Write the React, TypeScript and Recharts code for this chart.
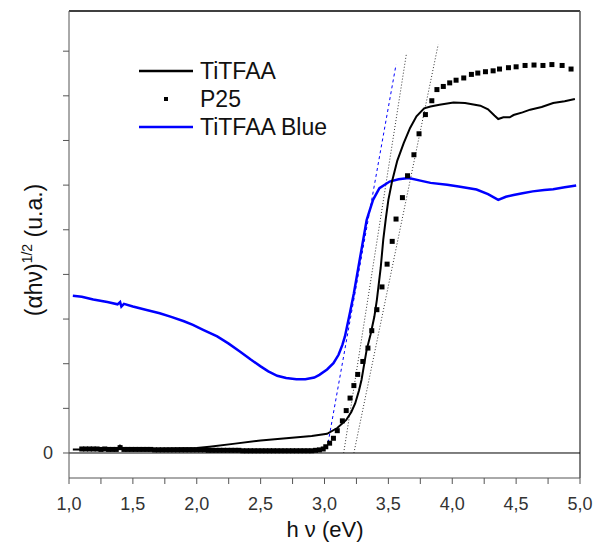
import React from 'react';
import { ComposedChart, Line, Scatter, XAxis, YAxis, ReferenceLine } from 'recharts';

// photon energy ticks (eV), labels only on the half-volt marks
const energyTicks = [1, 1.25, 1.5, 1.75, 2, 2.25, 2.5, 2.75, 3, 3.25, 3.5, 3.75, 4, 4.25, 4.5, 4.75, 5];
const intensityTicks = [0, 1, 2, 3, 4, 5, 6, 7, 8, 9];

const seriesNames = ['TiTFAA', 'P25', 'TiTFAA Blue'];

// [hv (eV), (ahv)^1/2 (u.a.)]
const tiTfaa: [number, number][] = [
  [1.03, 0.08], [1.1, 0.08], [1.3, 0.09], [1.39, 0.1], [1.4, 0.16], [1.42, 0.09], [1.6, 0.09],
  [1.8, 0.1], [2.0, 0.11], [2.1, 0.14], [2.3, 0.21], [2.5, 0.28], [2.7, 0.33], [2.9, 0.38],
  [3.02, 0.43], [3.1, 0.56], [3.17, 0.74], [3.21, 0.92], [3.24, 1.11], [3.27, 1.4], [3.29, 1.64],
  [3.31, 1.98], [3.33, 2.31], [3.36, 2.65], [3.39, 3.05], [3.41, 3.43], [3.44, 4.15], [3.46, 4.78],
  [3.48, 5.25], [3.5, 5.67], [3.53, 6.1], [3.57, 6.55], [3.62, 6.94], [3.67, 7.28], [3.72, 7.54],
  [3.78, 7.72], [3.83, 7.76], [3.9, 7.8], [4.01, 7.85], [4.1, 7.84], [4.22, 7.78], [4.28, 7.7],
  [4.33, 7.56], [4.36, 7.48], [4.4, 7.52], [4.45, 7.52], [4.48, 7.57], [4.55, 7.63], [4.61, 7.69],
  [4.7, 7.75], [4.79, 7.84], [4.88, 7.88], [4.96, 7.93],
];

const tiTfaaBlue: [number, number][] = [
  [1.03, 3.52], [1.1, 3.5], [1.19, 3.44], [1.3, 3.38], [1.38, 3.33], [1.4, 3.38], [1.41, 3.28],
  [1.43, 3.34], [1.5, 3.28], [1.6, 3.21], [1.71, 3.13], [1.8, 3.05], [1.9, 2.95], [1.97, 2.87],
  [2.05, 2.76], [2.16, 2.61], [2.25, 2.45], [2.34, 2.27], [2.42, 2.1], [2.5, 1.94], [2.56, 1.83],
  [2.63, 1.73], [2.7, 1.68], [2.78, 1.65], [2.85, 1.65], [2.92, 1.69], [2.96, 1.75], [3.02, 1.87],
  [3.07, 2.01], [3.11, 2.2], [3.14, 2.42], [3.16, 2.61], [3.2, 3.15], [3.23, 3.58], [3.28, 4.4],
  [3.33, 5.22], [3.38, 5.67], [3.43, 5.93], [3.51, 6.08], [3.58, 6.13], [3.66, 6.16], [3.75, 6.1],
  [3.83, 6.05], [3.96, 6.01], [4.05, 5.97], [4.19, 5.9], [4.28, 5.8], [4.36, 5.67], [4.42, 5.74],
  [4.48, 5.78], [4.55, 5.82], [4.63, 5.86], [4.72, 5.89], [4.79, 5.91], [4.88, 5.95], [4.97, 5.99],
];

const p25: [number, number][] = [
  [1.1, 0.09], [1.13, 0.09], [1.16, 0.09], [1.19, 0.09], [1.22, 0.09], [1.25, 0.08], [1.28, 0.09],
  [1.31, 0.08], [1.34, 0.08], [1.37, 0.08], [1.4, 0.12], [1.43, 0.08], [1.46, 0.08], [1.49, 0.08],
  [1.52, 0.08], [1.55, 0.08], [1.58, 0.08], [1.61, 0.08], [1.64, 0.08], [1.67, 0.07], [1.7, 0.07],
  [1.73, 0.07], [1.76, 0.07], [1.79, 0.07], [1.82, 0.07], [1.85, 0.07], [1.88, 0.07], [1.91, 0.07],
  [1.94, 0.07], [1.97, 0.07], [2.0, 0.07], [2.03, 0.07], [2.06, 0.07], [2.09, 0.06], [2.12, 0.06],
  [2.15, 0.06], [2.18, 0.06], [2.21, 0.06], [2.24, 0.06], [2.27, 0.06], [2.3, 0.06], [2.33, 0.06],
  [2.36, 0.05], [2.39, 0.05], [2.42, 0.05], [2.45, 0.05], [2.48, 0.05], [2.51, 0.05], [2.54, 0.05],
  [2.57, 0.05], [2.6, 0.05], [2.63, 0.05], [2.66, 0.05], [2.69, 0.05], [2.72, 0.05], [2.75, 0.05],
  [2.78, 0.05], [2.81, 0.05], [2.84, 0.05], [2.87, 0.05], [2.9, 0.05], [2.93, 0.06], [2.96, 0.07],
  [2.99, 0.09], [3.01, 0.14], [3.04, 0.22], [3.07, 0.33], [3.1, 0.5], [3.14, 0.72], [3.17, 0.95],
  [3.2, 1.23], [3.23, 1.51], [3.26, 1.76], [3.3, 2.05], [3.34, 2.35], [3.37, 2.74], [3.41, 3.21],
  [3.45, 3.72], [3.49, 4.23], [3.53, 4.74], [3.56, 5.24], [3.61, 5.72], [3.65, 6.21], [3.7, 6.68],
  [3.74, 7.15], [3.79, 7.58], [3.84, 7.89], [3.88, 8.14], [3.93, 8.21], [3.98, 8.29], [4.03, 8.35],
  [4.09, 8.4], [4.15, 8.48], [4.2, 8.51], [4.26, 8.54], [4.32, 8.56], [4.37, 8.6], [4.44, 8.63],
  [4.5, 8.65], [4.57, 8.68], [4.64, 8.69], [4.71, 8.68], [4.78, 8.7], [4.86, 8.68], [4.93, 8.6],
];

// band-gap tangents
const tangentBlue: [number, number][] = [[3.02, 0.1], [3.56, 8.7]];
const tangentTiTfaa: [number, number][] = [[3.15, 0], [3.64, 8.92]];
const tangentP25: [number, number][] = [[3.23, 0], [3.89, 9.15]];

const toPoints = (rows: [number, number][]) => rows.map(([x, y]) => ({ x, y }));

const FONT = '"Liberation Sans", Arial, sans-serif';
const Y_DOMAIN: [number, number] = [-0.56, 9.9];

const formatEnergy = (v: number) =>
  Math.round(v * 100) % 50 === 0 ? v.toFixed(1).replace('.', ',') : '';

const SquareDot = (props: any) => {
  const { cx, cy } = props;
  if (cx == null || cy == null) return null;
  return <rect x={cx - 2.5} y={cy - 2.5} width={5} height={5} fill="#000" />;
};

// legend drawn as an overlay so it doesn't push the plot area down
const LegendBox = () => (
  <div style={{ position: 'absolute', left: 139, top: 57, fontFamily: FONT, fontSize: 23, color: '#111' }}>
    {seriesNames.map((name, i) => (
      <div key={name} style={{ display: 'flex', alignItems: 'center', height: 28 }}>
        <svg width={61} height={28}>
          {i === 1 ? (
            <rect x={25} y={12} width={4} height={4} fill="#000" />
          ) : (
            <line x1={0} x2={54} y1={14} y2={14} stroke={i === 0 ? '#000' : '#0000ff'} strokeWidth={2.5} />
          )}
        </svg>
        <span style={{ lineHeight: '28px', whiteSpace: 'nowrap' }}>{name}</span>
      </div>
    ))}
  </div>
);

const YLabel = () => {
  const cx = 42;
  const cy = 250;
  return (
    <text
      x={cx}
      y={cy}
      transform={`rotate(-90, ${cx}, ${cy})`}
      textAnchor="middle"
      fontFamily={FONT}
      fontSize={23}
      fill="#111"
    >
      <tspan>(αhν)</tspan>
      <tspan dy={-10} fontSize={14}>1/2</tspan>
      <tspan dy={10}> (u.a.)</tspan>
    </text>
  );
};

const XLabel = () => (
  <text x={325} y={537} textAnchor="middle" fontFamily={FONT} fontSize={22} fill="#111">
    h ν (eV)
  </text>
);

export default function App() {
  return (
    <div style={{ position: 'absolute', left: 0, top: 0, width: 595, height: 542, background: '#fff' }}>
      <ComposedChart width={595} height={542} margin={{ top: 11, right: 15, left: 9, bottom: 34 }}>
        <XAxis
          type="number"
          dataKey="x"
          domain={[1, 5]}
          ticks={energyTicks}
          tickFormatter={formatEnergy}
          interval={0}
          allowDataOverflow
          height={30}
          tickSize={6}
          tickMargin={13}
          stroke="#555"
          tick={{ fill: '#333', fontSize: 18, fontFamily: FONT }}
          label={{ content: () => <XLabel /> }}
        />
        <YAxis
          type="number"
          domain={Y_DOMAIN}
          ticks={intensityTicks}
          tickFormatter={(v: number) => (v === 0 ? '0' : '')}
          interval={0}
          allowDataOverflow
          width={60}
          tickSize={6}
          tickMargin={10}
          stroke="#555"
          tick={{ fill: '#333', fontSize: 18, fontFamily: FONT }}
          label={{ content: () => <YLabel /> }}
        />
        {/* frame: top and right edges */}
        <ReferenceLine y={Y_DOMAIN[1]} stroke="#000" strokeWidth={1.5} />
        <ReferenceLine x={5} stroke="#555" strokeWidth={1.5} />
        <ReferenceLine y={0} stroke="#000" strokeWidth={1} />
        <Line data={toPoints(tangentBlue)} dataKey="y" stroke="#0000ff" strokeWidth={1} strokeDasharray="3 3" dot={false} activeDot={false} isAnimationActive={false} legendType="none" />
        <Line data={toPoints(tangentTiTfaa)} dataKey="y" stroke="#333" strokeWidth={1} strokeDasharray="1 2" dot={false} activeDot={false} isAnimationActive={false} legendType="none" />
        <Line data={toPoints(tangentP25)} dataKey="y" stroke="#333" strokeWidth={1} strokeDasharray="1 2" dot={false} activeDot={false} isAnimationActive={false} legendType="none" />
        <Line name="TiTFAA Blue" data={toPoints(tiTfaaBlue)} dataKey="y" stroke="#0000ff" strokeWidth={2.5} dot={false} activeDot={false} isAnimationActive={false} />
        <Scatter name="P25" data={toPoints(p25)} dataKey="y" shape={<SquareDot />} isAnimationActive={false} />
        <Line name="TiTFAA" data={toPoints(tiTfaa)} dataKey="y" stroke="#000" strokeWidth={2} dot={false} activeDot={false} isAnimationActive={false} />
      </ComposedChart>
      <LegendBox />
    </div>
  );
}
